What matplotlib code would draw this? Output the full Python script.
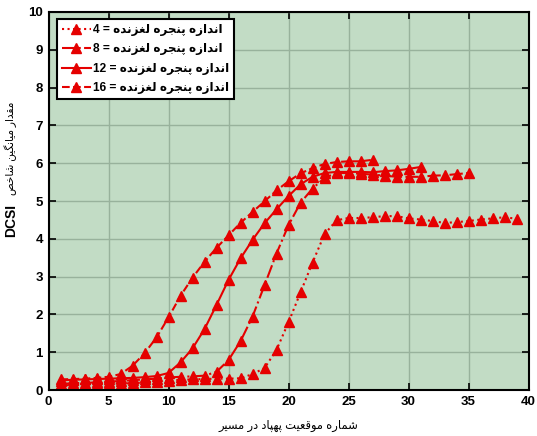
import matplotlib
matplotlib.use("Agg")
import matplotlib.pyplot as plt

# ---------------- data ----------------
x4 = list(range(1, 40))
w4 = [0.12, 0.13, 0.14, 0.15, 0.16, 0.17, 0.18, 0.20, 0.22, 0.25,
      0.27, 0.28, 0.29, 0.30, 0.30, 0.31, 0.42, 0.58, 1.06, 1.79,
      2.58, 3.37, 4.12, 4.49, 4.55, 4.55, 4.57, 4.60, 4.60, 4.54,
      4.51, 4.47, 4.42, 4.44, 4.47, 4.51, 4.54, 4.57, 4.53]
x8 = list(range(1, 36))
w8 = [0.16, 0.18, 0.19, 0.20, 0.22, 0.24, 0.26, 0.28, 0.30, 0.33,
      0.35, 0.36, 0.38, 0.48, 0.79, 1.29, 1.94, 2.77, 3.61, 4.36,
      4.95, 5.33, 5.61, 5.74, 5.74, 5.72, 5.70, 5.67, 5.64, 5.64,
      5.64, 5.67, 5.68, 5.71, 5.74]
x12 = list(range(1, 32))
w12 = [0.25, 0.27, 0.28, 0.29, 0.30, 0.31, 0.32, 0.34, 0.37, 0.45,
       0.73, 1.10, 1.61, 2.25, 2.91, 3.48, 3.97, 4.41, 4.78, 5.13,
       5.44, 5.64, 5.74, 5.77, 5.77, 5.77, 5.76, 5.79, 5.81, 5.85, 5.90]
x16 = list(range(1, 28))
w16 = [0.28, 0.29, 0.30, 0.32, 0.35, 0.42, 0.64, 0.97, 1.39, 1.92,
       2.49, 2.97, 3.39, 3.76, 4.09, 4.42, 4.71, 4.99, 5.28, 5.52,
       5.73, 5.87, 5.98, 6.03, 6.05, 6.05, 6.09]
window_sizes = [4, 8, 12, 16]
legend_text = "اندازه پنجره لغزنده"
xlabel_text = "شماره موقعیت پهپاد در مسیر"
ylabel_text = "مقدار میانگین شاخص"
xticks = [0, 5, 10, 15, 20, 25, 30, 35, 40]
yticks = list(range(0, 11))

# ------------- simple Arabic/Persian shaping -------------
FORMS = {
    'ا': ('\uFE8D', '\uFE8E', None, None),
    'ب': ('\uFE8F', '\uFE90', '\uFE91', '\uFE92'),
    'ت': ('\uFE95', '\uFE96', '\uFE97', '\uFE98'),
    'ج': ('\uFE9D', '\uFE9E', '\uFE9F', '\uFEA0'),
    'خ': ('\uFEA5', '\uFEA6', '\uFEA7', '\uFEA8'),
    'د': ('\uFEA9', '\uFEAA', None, None),
    'ر': ('\uFEAD', '\uFEAE', None, None),
    'ز': ('\uFEAF', '\uFEB0', None, None),
    'س': ('\uFEB1', '\uFEB2', '\uFEB3', '\uFEB4'),
    'ش': ('\uFEB5', '\uFEB6', '\uFEB7', '\uFEB8'),
    'ص': ('\uFEB9', '\uFEBA', '\uFEBB', '\uFEBC'),
    'ع': ('\uFEC9', '\uFECA', '\uFECB', '\uFECC'),
    'غ': ('\uFECD', '\uFECE', '\uFECF', '\uFED0'),
    'ق': ('\uFED5', '\uFED6', '\uFED7', '\uFED8'),
    'ل': ('\uFEDD', '\uFEDE', '\uFEDF', '\uFEE0'),
    'م': ('\uFEE1', '\uFEE2', '\uFEE3', '\uFEE4'),
    'ن': ('\uFEE5', '\uFEE6', '\uFEE7', '\uFEE8'),
    'ه': ('\uFEE9', '\uFEEA', '\uFEEB', '\uFEEC'),
    'و': ('\uFEED', '\uFEEE', None, None),
    'پ': ('\uFB56', '\uFB57', '\uFB58', '\uFB59'),
    'گ': ('\uFB92', '\uFB93', '\uFB94', '\uFB95'),
    'ی': ('\uFBFC', '\uFBFD', '\uFBFE', '\uFBFF'),
}


def shape(s):
    out = []
    n = len(s)
    for i, ch in enumerate(s):
        if ch not in FORMS:
            out.append(ch)
            continue
        f = FORMS[ch]
        dual = f[2] is not None
        prev = s[i - 1] if i > 0 else None
        nxt = s[i + 1] if i < n - 1 else None
        pc = prev in FORMS and FORMS[prev][2] is not None
        nc = dual and (nxt in FORMS)
        if pc and nc:
            out.append(f[3])
        elif pc:
            out.append(f[1])
        elif nc:
            out.append(f[2])
        else:
            out.append(f[0])
    return ''.join(reversed(out))


FAM = ['Liberation Sans', 'DejaVu Sans']
plt.rcParams['font.family'] = FAM

RED = '#e50000'
BG = '#c2dcc5'

fig = plt.figure(figsize=(5.37, 4.36), dpi=100)
ax = fig.add_axes([48.5 / 537, 46 / 436, 480 / 537, 378 / 436])
ax.set_facecolor(BG)

series = [(x4, w4, ':'), (x8, w8, '-.'), (x12, w12, '-'), (x16, w16, '--')]
for (xs, ys, ls), w in zip(series, window_sizes):
    ax.plot(xs, ys, linestyle=ls, color=RED, linewidth=1.5, marker='^',
            markersize=6.5, markerfacecolor=RED, markeredgecolor=RED,
            label=f"{w} = " + shape(legend_text))

ax.set_xlim(0, 40)
ax.set_ylim(0, 10)
ax.set_xticks(xticks)
ax.set_yticks(yticks)
ax.grid(True, color='#98b29c', linewidth=1.0)
ax.set_axisbelow(True)
ax.tick_params(direction='in', top=True, right=True, length=5, width=1.2,
               labelsize=9.5, pad=4)
for lab in ax.get_xticklabels() + ax.get_yticklabels():
    lab.set_fontweight('bold')
for sp in ax.spines.values():
    sp.set_linewidth(1.5)
    sp.set_color('black')

leg = ax.legend(loc='upper left', bbox_to_anchor=(0.018, 0.981),
                borderaxespad=0, numpoints=1, handlelength=2.4,
                handletextpad=0.2, labelspacing=0.62, fancybox=False,
                framealpha=1, edgecolor='black', borderpad=0.4,
                prop={'family': FAM, 'weight': 'bold', 'size': 8.6})
leg.get_frame().set_linewidth(1.5)

fig.text(288.5 / 537, 1 - 426 / 436, shape(xlabel_text), ha='center',
         va='center', fontsize=8.3, family=FAM)
fig.text(11 / 537, 1 - 148 / 436, shape(ylabel_text), ha='center',
         va='center', rotation=90, fontsize=7.6, family=FAM)
fig.text(11 / 537, 1 - 220 / 436, "DCSI", ha='center', va='center',
         rotation=90, fontsize=10, fontweight='bold', family=FAM)

fig.savefig('out.png', dpi=100, facecolor='white')
